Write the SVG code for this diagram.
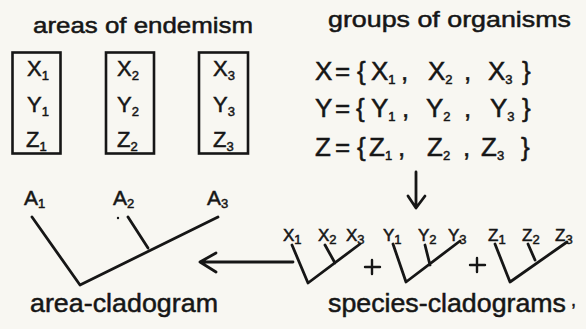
<svg xmlns="http://www.w3.org/2000/svg" width="586" height="329" viewBox="0 0 586 329">
<style>
  text { font-family: "Liberation Sans", "DejaVu Sans", sans-serif; fill: #161616; stroke: #161616; stroke-width: 0.5; }
  .title { font-size: 22px; }
  .big { font-size: 26px; }
  .box-t { font-size: 22px; }
  .lab { font-size: 21px; }
  .sp { font-size: 17px; }
  .sub { font-size: 13px; }
  .cap { font-size: 26px; }
  .box { fill: none; stroke: #161616; stroke-width: 2.6; }
  .ln { fill: none; stroke: #161616; stroke-width: 2.8; stroke-linecap: round; stroke-linejoin: round; }
</style>
<rect width="586" height="329" fill="#f8f7f2"/>

<g id="title-areas">
  <text class="title" x="33" y="33" textLength="220" lengthAdjust="spacingAndGlyphs">areas of endemism</text>
</g>
<g id="title-groups">
  <text class="title" x="328" y="27" textLength="243" lengthAdjust="spacingAndGlyphs">groups of organisms</text>
</g>

<g id="area-1">
  <rect class="box" x="12.5" y="52.5" width="48" height="101"/>
  <text class="box-t" x="27" y="76">X<tspan class="sub" dy="4">1</tspan></text>
  <text class="box-t" x="27" y="112">Y<tspan class="sub" dy="4">1</tspan></text>
  <text class="box-t" x="26" y="147">Z<tspan class="sub" dy="4">1</tspan></text>
</g>
<g id="area-2">
  <rect class="box" x="106" y="52.5" width="48" height="101"/>
  <text class="box-t" x="117" y="76">X<tspan class="sub" dy="4">2</tspan></text>
  <text class="box-t" x="117" y="112">Y<tspan class="sub" dy="4">2</tspan></text>
  <text class="box-t" x="117" y="147">Z<tspan class="sub" dy="4">2</tspan></text>
</g>
<g id="area-3">
  <rect class="box" x="199" y="52.5" width="49" height="101"/>
  <text class="box-t" x="213" y="76">X<tspan class="sub" dy="4">3</tspan></text>
  <text class="box-t" x="213" y="112">Y<tspan class="sub" dy="4">3</tspan></text>
  <text class="box-t" x="213" y="147">Z<tspan class="sub" dy="4">3</tspan></text>
</g>

<g id="groups-sets">
  <text class="big" y="80"><tspan x="315">X</tspan><tspan x="335">=</tspan><tspan x="357">{</tspan><tspan x="371">X</tspan><tspan class="sub" dy="4">1</tspan><tspan x="401" dy="-4">,</tspan><tspan x="428">X</tspan><tspan class="sub" dy="4">2</tspan><tspan x="464" dy="-4">,</tspan><tspan x="488">X</tspan><tspan class="sub" dy="4">3</tspan><tspan x="522" dy="-4">}</tspan></text>
  <text class="big" y="117"><tspan x="315">Y</tspan><tspan x="335">=</tspan><tspan x="356">{</tspan><tspan x="371">Y</tspan><tspan class="sub" dy="4">1</tspan><tspan x="402" dy="-4">,</tspan><tspan x="426">Y</tspan><tspan class="sub" dy="4">2</tspan><tspan x="464" dy="-4">,</tspan><tspan x="490">Y</tspan><tspan class="sub" dy="4">3</tspan><tspan x="522" dy="-4">}</tspan></text>
  <text class="big" y="156"><tspan x="315">Z</tspan><tspan x="335">=</tspan><tspan x="357">{</tspan><tspan x="369">Z</tspan><tspan class="sub" dy="4">1</tspan><tspan x="398" dy="-4">,</tspan><tspan x="427">Z</tspan><tspan class="sub" dy="4">2</tspan><tspan x="463" dy="-4">,</tspan><tspan x="481">Z</tspan><tspan class="sub" dy="4">3</tspan><tspan x="521" dy="-4">}</tspan></text>
</g>

<g id="area-cladogram">
  <text class="lab" x="24" y="205">A<tspan class="sub" dy="3">1</tspan></text>
  <text class="lab" x="113" y="205">A<tspan class="sub" dy="3">2</tspan></text>
  <text class="lab" x="207" y="205">A<tspan class="sub" dy="3">3</tspan></text>
  <circle cx="118" cy="218" r="1.2" fill="#161616"/>
  <path class="ln" d="M32 217 L80 285 L218 217 M148 248 L128 217"/>
  <text class="cap" x="30" y="312" textLength="188" lengthAdjust="spacingAndGlyphs">area-cladogram</text>
</g>

<g id="species-cladogram-x">
  <text class="sp" x="283" y="241">X<tspan class="sub" dy="3">1</tspan></text>
  <text class="sp" x="318" y="241">X<tspan class="sub" dy="3">2</tspan></text>
  <text class="sp" x="346" y="241">X<tspan class="sub" dy="3">3</tspan></text>
  <path class="ln" d="M292 245 L308 283 L360 244 M335 263 L325 245"/>
</g>
<g id="plus-1">
  <path class="ln" d="M365 267 H380 M372 260 V274" style="stroke-width:2.4"/>
</g>
<g id="species-cladogram-y">
  <text class="sp" x="383" y="241">Y<tspan class="sub" dy="3">1</tspan></text>
  <text class="sp" x="418" y="241">Y<tspan class="sub" dy="3">2</tspan></text>
  <text class="sp" x="448" y="241">Y<tspan class="sub" dy="3">3</tspan></text>
  <path class="ln" d="M393 244 L406 282 L460 241 M430 265 L425 245"/>
</g>
<g id="plus-2">
  <path class="ln" d="M470 265 H485 M477 258 V272" style="stroke-width:2.4"/>
</g>
<g id="species-cladogram-z">
  <text class="sp" x="488" y="241">Z<tspan class="sub" dy="3">1</tspan></text>
  <text class="sp" x="522" y="241">Z<tspan class="sub" dy="3">2</tspan></text>
  <text class="sp" x="555" y="241">Z<tspan class="sub" dy="3">3</tspan></text>
  <path class="ln" d="M495 244 L510 282 L567 242 M535 260 L528 244"/>
  <text class="cap" x="328" y="312" textLength="238" lengthAdjust="spacingAndGlyphs">species-cladograms</text>
  <text class="cap" x="571" y="306" style="font-size:18px">,</text>
</g>

<g id="connectors">
  <path class="ln" d="M416 172 V208 M408 196 L416 208 L425 196"/>
  <path class="ln" d="M293 262 H200 M216 253 L200 262 L216 272"/>
</g>
</svg>
